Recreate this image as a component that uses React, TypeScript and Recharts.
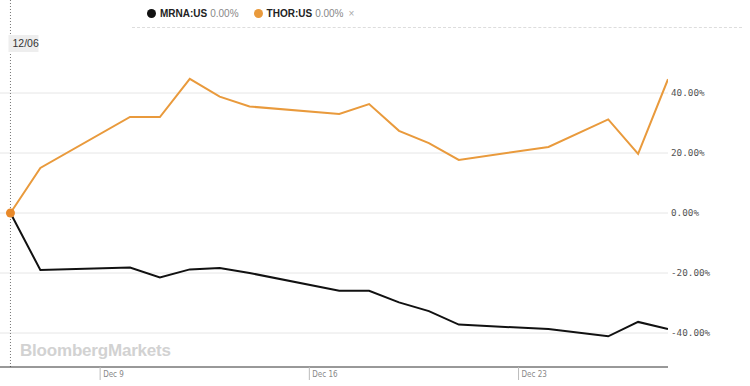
import React from 'react'
import {
  LineChart,
  Line,
  XAxis,
  YAxis,
  ReferenceLine,
} from 'recharts'

// calendar day offset from Dec 6 (trading days only)
const days = [0, 1, 4, 5, 6, 7, 8, 11, 12, 13, 14, 15, 18, 20, 21, 22]
const thorValues = [0, 15, 32, 32, 44.7, 38.8, 35.5, 33, 36.3, 27.4, 23.3, 17.7, 22, 31.2, 19.7, 44.6]
const mrnaValues = [0, -19, -18.2, -21.5, -18.8, -18.3, -20, -25.9, -25.9, -29.8, -32.7, -37.2, -38.7, -41.1, -36.3, -38.7]

const xTicks = [3, 10, 17]
const xTickLabels = ['Dec 9', 'Dec 16', 'Dec 23']
const yTicks = [-40, -20, 0, 20, 40]

const ORANGE = '#e99a3c'
const BLACK = '#111111'

const chartData = days.map((d, i) => ({ day: d, thor: thorValues[i], mrna: mrnaValues[i] }))

const XTick = (props: any) => {
  const { x, y, payload } = props
  const idx = xTicks.indexOf(payload.value)
  return (
    <g>
      <line x1={x} y1={y} x2={x} y2={y + 13} stroke="#bbb" strokeWidth={1} />
      <text
        x={x + 3}
        y={y + 10}
        fontSize={8}
        fill="#888"
        fontFamily="'DejaVu Sans Condensed', 'Liberation Sans Narrow', sans-serif"
      >
        {xTickLabels[idx]}
      </text>
    </g>
  )
}

const YTick = (props: any) => {
  const { x, y, payload } = props
  return (
    <text
      x={x}
      y={y}
      dy={3}
      textAnchor="start"
      fontSize={9.3}
      fill="#555"
      fontFamily="'DejaVu Sans Mono', monospace"
    >
      {payload.value.toFixed(2) + '%'}
    </text>
  )
}

const CursorLabel = (props: any) => {
  const { viewBox } = props
  const x = viewBox.x
  const bottom = viewBox.y + viewBox.height
  return (
    <g>
      <line x1={x} y1={0} x2={x} y2={bottom} stroke="#777" strokeDasharray="1 2" strokeWidth={1} />
      <rect x={x - 2} y={35} width={30} height={17} fill="#eeeeee" />
      <text x={x + 2} y={47} fontSize={10.5} fill="#333" fontFamily="'Liberation Sans', Arial, sans-serif">
        12/06
      </text>
    </g>
  )
}

const StartDot = (props: any) => {
  const { cx, cy, index } = props
  if (index !== 0) return <g key={index} />
  return <circle key={index} cx={cx} cy={cy} r={4.5} fill="#e8892a" />
}

const legendFont = "'Liberation Sans', Arial, Helvetica, sans-serif"

export default function App() {
  return (
    <div style={{ position: 'absolute', left: 0, top: 0, width: 750, height: 386, background: '#fff' }}>
      <div
        style={{
          position: 'absolute',
          left: 147,
          top: 8,
          fontFamily: legendFont,
          fontSize: 10,
          display: 'flex',
          alignItems: 'center',
          whiteSpace: 'nowrap',
        }}
      >
        <span style={{ width: 9, height: 9, borderRadius: 5, background: BLACK, display: 'inline-block', marginRight: 4 }} />
        <span style={{ fontWeight: 'bold', color: '#222' }}>MRNA:US</span>
        <span style={{ color: '#888', marginLeft: 3 }}>0.00%</span>
        <span
          style={{ width: 9, height: 9, borderRadius: 5, background: ORANGE, display: 'inline-block', marginLeft: 15, marginRight: 4 }}
        />
        <span style={{ fontWeight: 'bold', color: '#222' }}>THOR:US</span>
        <span style={{ color: '#888', marginLeft: 3 }}>0.00%</span>
        <span style={{ color: '#aaa', marginLeft: 5, fontSize: 10 }}>×</span>
      </div>
      <div
        style={{
          position: 'absolute',
          left: 132,
          top: 27,
          width: 610,
          borderTop: '1px dashed #dddddd',
        }}
      />
      <div
        style={{
          position: 'absolute',
          left: 20,
          top: 341,
          fontFamily: legendFont,
          fontWeight: 'bold',
          fontSize: 17,
          color: '#d2d2d2',
          letterSpacing: -0.2,
        }}
      >
        BloombergMarkets
      </div>
      <div style={{ position: 'absolute', left: 0, top: 0 }}>
        <LineChart width={750} height={386} data={chartData} margin={{ top: 63, right: 0, bottom: 0, left: 0 }}>
          {yTicks.map((v) => (
            <ReferenceLine key={v} y={v} stroke="#e6e6e6" strokeWidth={1} />
          ))}
          <XAxis
            dataKey="day"
            type="number"
            domain={[-0.35, 22]}
            ticks={xTicks}
            height={19}
            axisLine={{ stroke: '#333' }}
            tickLine={false}
            tickSize={0}
            tickMargin={0}
            tick={<XTick />}
            allowDataOverflow
          />
          <YAxis
            orientation="right"
            width={82}
            domain={[-51.33, 50]}
            ticks={yTicks}
            axisLine={false}
            tickLine={false}
            tickSize={3}
            tickMargin={0}
            tick={<YTick />}
            allowDataOverflow
          />
          <ReferenceLine x={0} stroke="none" label={<CursorLabel />} />
          <Line
            dataKey="mrna"
            stroke={BLACK}
            strokeWidth={2}
            dot={false}
            isAnimationActive={false}
            type="linear"
          />
          <Line
            dataKey="thor"
            stroke={ORANGE}
            strokeWidth={2}
            dot={<StartDot />}
            activeDot={false}
            isAnimationActive={false}
            type="linear"
          />
        </LineChart>
      </div>
    </div>
  )
}
